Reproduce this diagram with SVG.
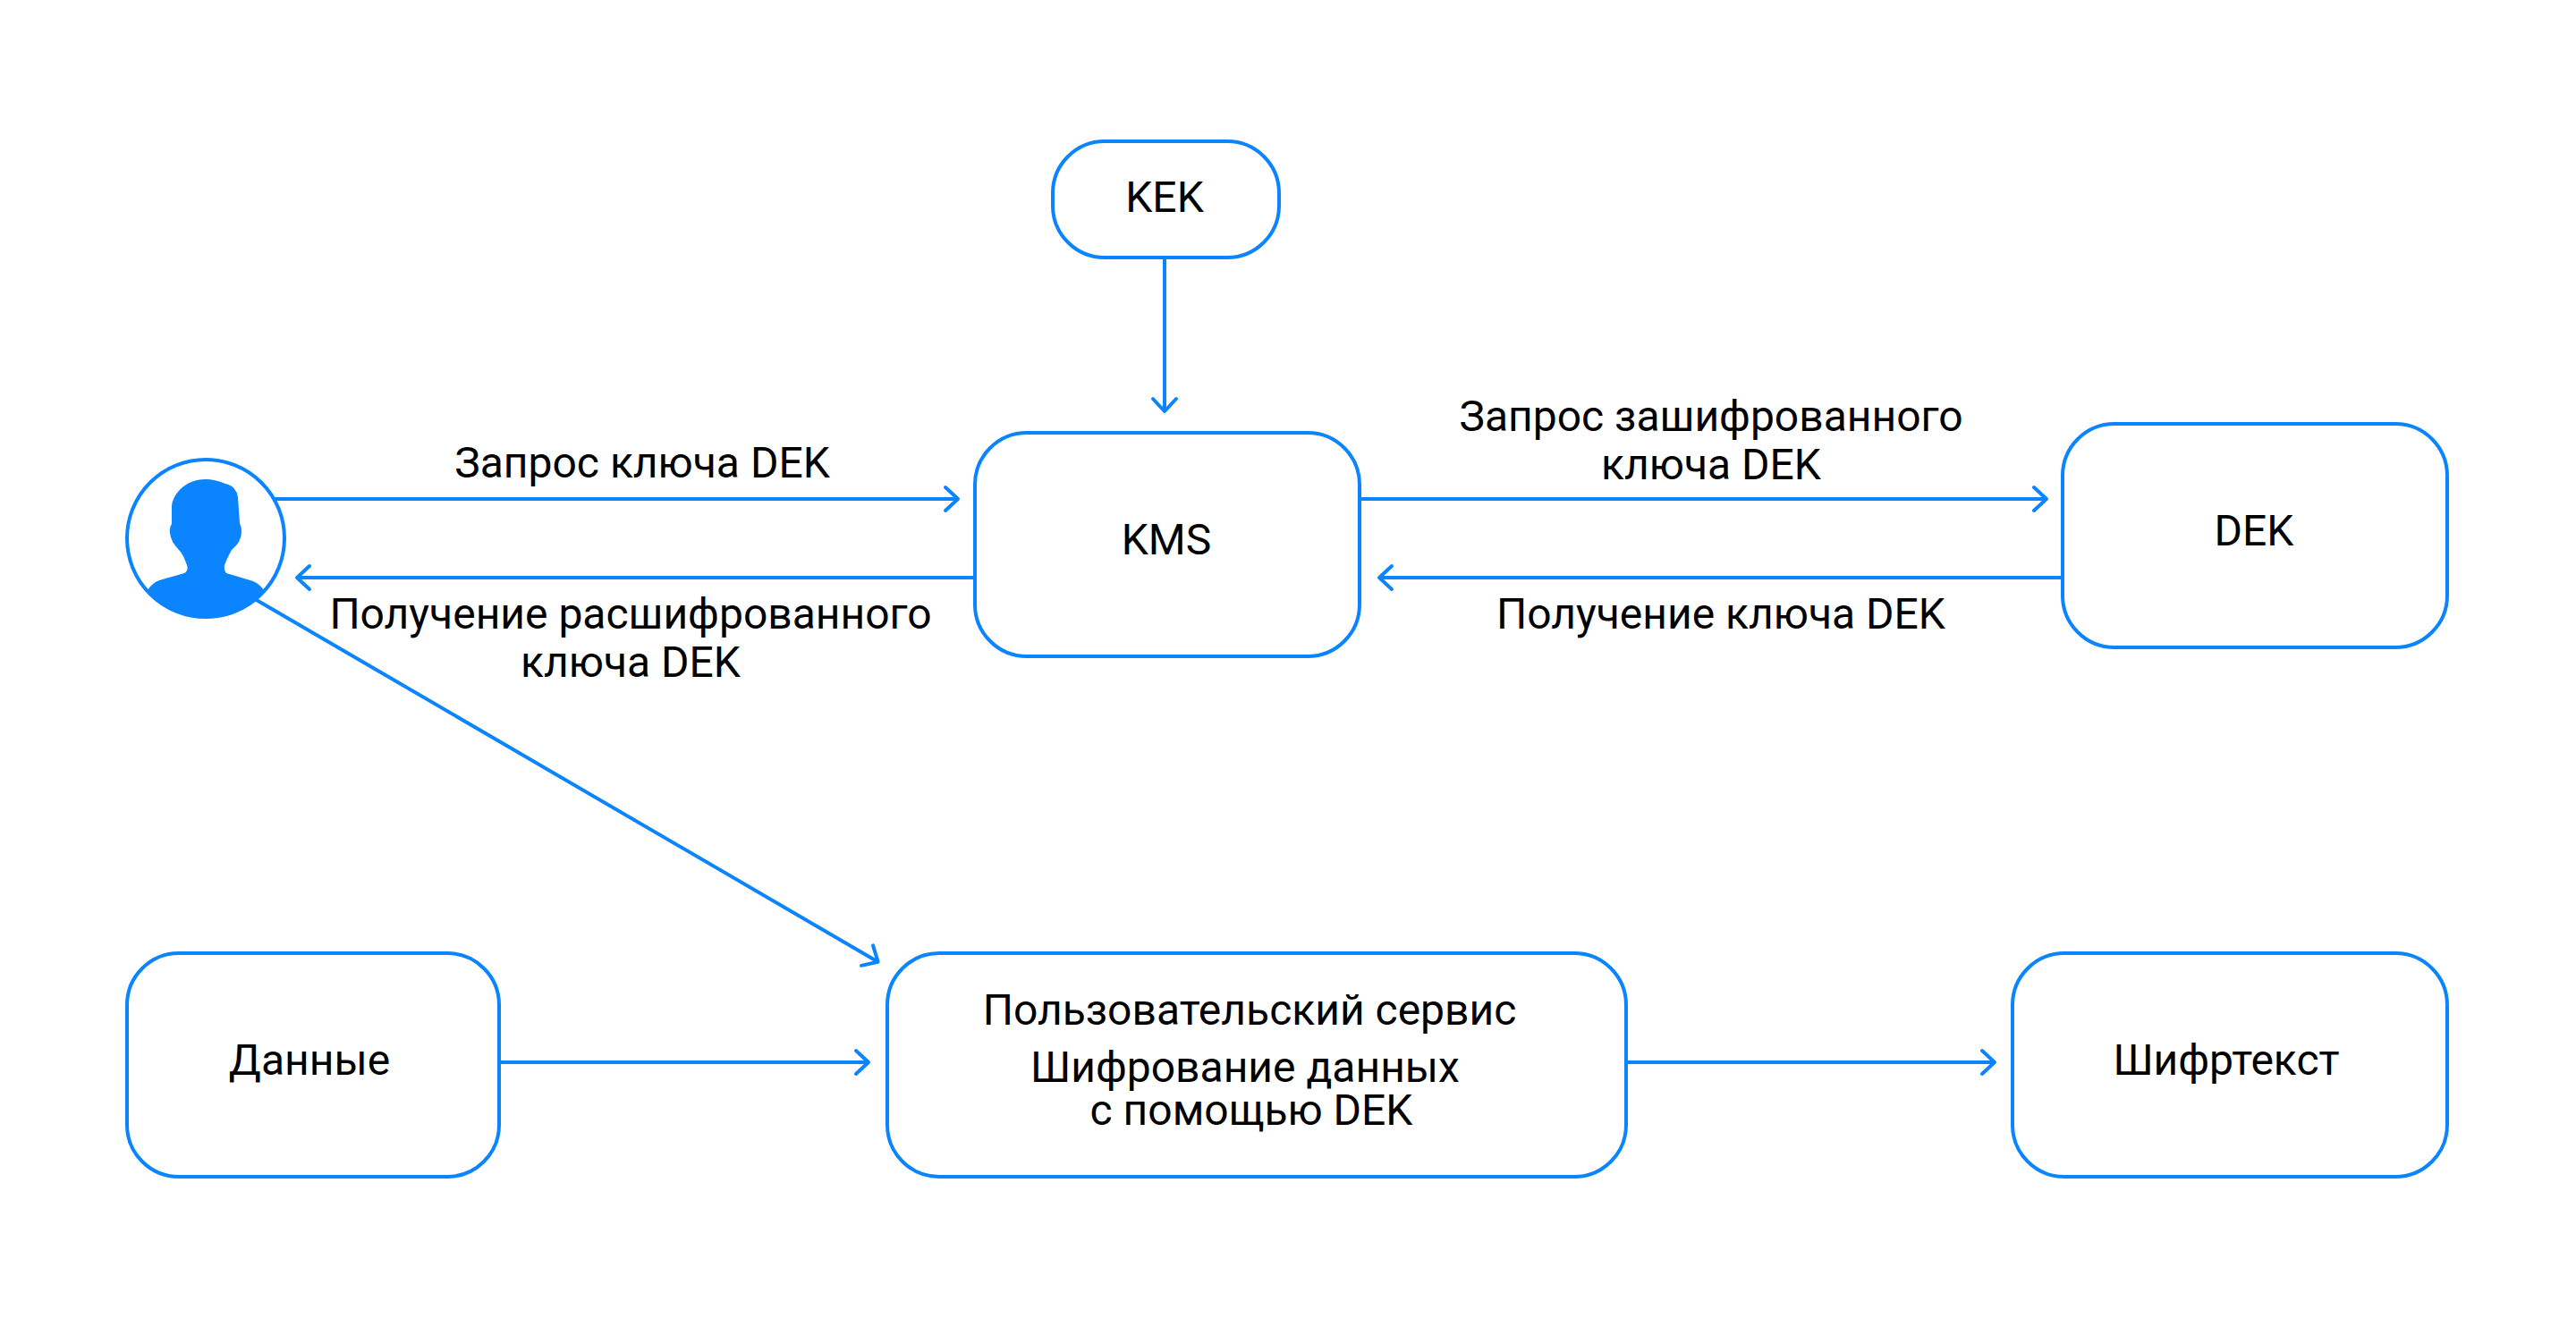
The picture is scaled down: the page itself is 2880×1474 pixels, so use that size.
<svg xmlns="http://www.w3.org/2000/svg" width="2880" height="1474" viewBox="0 0 2880 1474">
<style>
.n{fill:#fff;stroke:#0a84ff;stroke-width:4}
.c{fill:none;stroke:#0a84ff;stroke-width:4}
text{font-family:Roboto,"Liberation Sans",sans-serif;font-size:48px;fill:#000;text-anchor:middle}
</style>
<defs><marker id="a" markerUnits="userSpaceOnUse" viewBox="-20 -20 24 40" refX="0" refY="0" markerWidth="24" markerHeight="40" orient="auto"><path d="M-14-13L0 0L-14 13" fill="none" stroke="#0a84ff" stroke-width="4" stroke-linecap="round" stroke-linejoin="round"/></marker></defs>
<rect width="2880" height="1474" fill="#fff"/>
<g id="connectors">
<path class="c" marker-end="url(#a)" d="M1302 288V460"/>
<path class="c" marker-end="url(#a)" d="M307 558H1071"/>
<path class="c" marker-end="url(#a)" d="M1090 646H332"/>
<path class="c" marker-end="url(#a)" d="M1520 558H2288"/>
<path class="c" marker-end="url(#a)" d="M2306 646H1542"/>
<path class="c" marker-end="url(#a)" d="M285 670L981.6 1075.7"/>
<path class="c" marker-end="url(#a)" d="M558 1188H971"/>
<path class="c" marker-end="url(#a)" d="M1818 1188H2230"/>
</g>
<g id="user"><circle class="n" cx="230" cy="602" r="88"/>
<path fill="#0a84ff" d="M230 536C206 536 192 554 192 568L192 586Q189 590 190 596Q191 606 200 615Q205 620 209 632Q211 638 206 641L178 649Q170 652 165 660A88 88 0 0 0 295 660Q290 653 283 650L253 641Q250 638 251 632Q254 624 259 615Q270 606 270 595Q270 589 268 585L266 556Q264 543 252 541Q240 536 230 536Z"/></g>
<g id="kek"><rect class="n" x="1177" y="158" width="253" height="130" rx="58" ry="58"/><text x="1302" y="237">KEK</text></g>
<g id="kms"><rect class="n" x="1090" y="484" width="430" height="250" rx="58"/><text x="1304" y="620">KMS</text></g>
<g id="dek"><rect class="n" x="2306" y="474" width="430" height="250" rx="58"/><text x="2520" y="610">DEK</text></g>
<g id="data"><rect class="n" x="142" y="1066" width="416" height="250" rx="58"/><text x="346" y="1202">Данные</text></g>
<g id="service"><rect class="n" x="992" y="1066" width="826" height="250" rx="58"/><text x="1397" y="1146">Пользовательский сервис</text><text x="1392" y="1210">Шифрование данных</text><text x="1399" y="1258">с помощью DEK</text></g>
<g id="cipher"><rect class="n" x="2250" y="1066" width="486" height="250" rx="58"/><text x="2489" y="1202">Шифртекст</text></g>
<g id="labels">
<text x="718" y="534">Запрос ключа DEK</text>
<text x="705" y="703">Получение расшифрованного</text><text x="705" y="757">ключа DEK</text>
<text x="1913" y="482">Запрос зашифрованного</text><text x="1913" y="536">ключа DEK</text>
<text x="1924" y="703">Получение ключа DEK</text>
</g>
</svg>
